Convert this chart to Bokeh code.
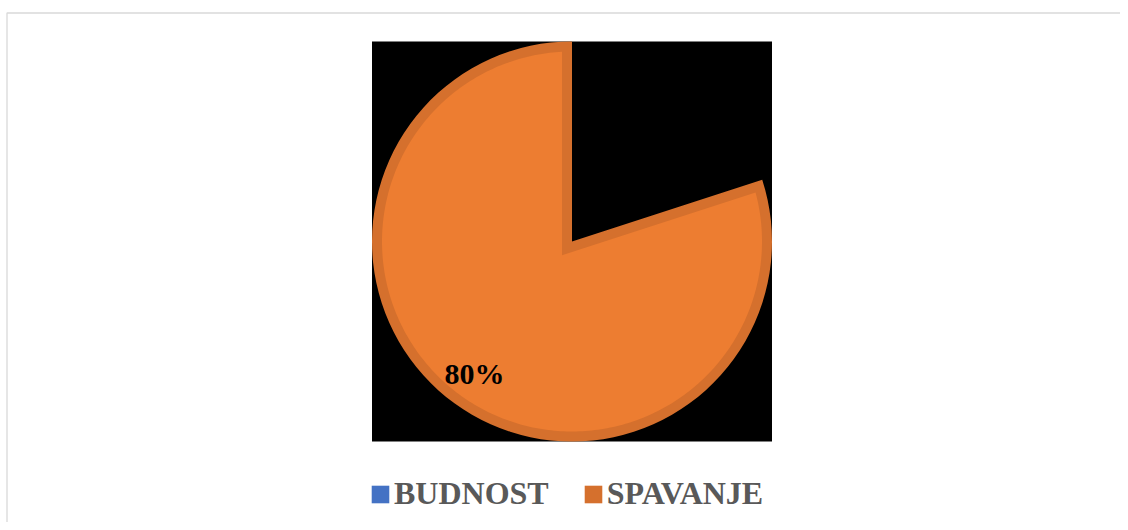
import numpy as np
from bokeh.plotting import figure
from bokeh.models import Range1d, Legend, LegendItem
from bokeh.core.properties import value
from bokeh.embed import file_html
from bokeh.resources import INLINE

# ---- data ----
categories = ["BUDNOST", "SPAVANJE"]
shares = [20, 80]
slice_fill = ["#ED7D31", "#ED7D31"]
slice_border = ["#D5702D", "#D5702D"]
legend_colors = ["#4472C4", "#D5702D"]
slice_visible = [False, True]
label_visible = [False, True]

# ---- layout ----
W, H = 1120, 522
cx, cy = 571.5, 281.0   # pie centre (plot pixels)
R = 200.0               # pie radius
RING = 10.0             # inner border width
LABEL_R = 0.83

p = figure(width=W, height=H, x_range=Range1d(0, W), y_range=Range1d(0, H),
           output_backend="svg", toolbar_location=None, min_border=0,
           x_axis_location=None, y_axis_location=None)
p.grid.visible = False
p.outline_line_color = None
p.background_fill_color = "white"
p.border_fill_color = "white"

# chart outer border (only top/left visible, like the reference)
p.quad(left=[6.5], right=[W + 50], top=[509.5], bottom=[-50],
       fill_color=None, line_color="#D9D9D9", line_width=1.3)

# black plot area behind the pie
p.quad(left=[cx - R], right=[cx + R], bottom=[cy - R], top=[cy + R],
       fill_color="black", line_color=None)

vals = np.array(shares, dtype=float)
frac = vals / vals.sum()
cum = np.cumsum(frac)
cw_start = cum - frac
cw_end = cum
a_start = np.pi / 2 - 2 * np.pi * cw_end     # anticlockwise start
a_end = np.pi / 2 - 2 * np.pi * cw_start     # anticlockwise end

for i, cat in enumerate(categories):
    if not slice_visible[i]:
        continue
    a0, a1 = a_start[i], a_end[i]
    # border (drawn inside the slice)
    p.wedge(x=[cx], y=[cy], radius=R, start_angle=[a0], end_angle=[a1],
            direction="anticlock", fill_color=slice_border[i], line_color=None)
    # inner fill: slice shrunk by RING px on all sides
    half = (a1 - a0) / 2
    mid = (a0 + a1) / 2
    r_in = R - RING
    d = RING / np.sin(half)
    px, py = cx + d * np.cos(mid), cy + d * np.sin(mid)
    dlt = np.arcsin(RING / r_in)
    t = np.linspace(a0 + dlt, a1 - dlt, 300)
    xs = np.concatenate([[px], cx + r_in * np.cos(t), [px]])
    ys = np.concatenate([[py], cy + r_in * np.sin(t), [py]])
    p.patch(xs, ys, fill_color=slice_fill[i], line_color=None)

# data labels
for i, cat in enumerate(categories):
    if not label_visible[i]:
        continue
    mid = (a_start[i] + a_end[i]) / 2
    lx = cx + LABEL_R * R * np.cos(mid)
    ly = cy + LABEL_R * R * np.sin(mid)
    p.text(x=[lx], y=[ly], text=[f"{round(frac[i] * 100)}%"],
           text_font=value("Liberation Serif"), text_font_style="bold",
           text_font_size="30px", text_color="black",
           text_align="center", text_baseline="middle", y_offset=-2)

# legend (swatch-only renderers, nothing drawn in the plot)
leg_renderers = [p.quad(left=[np.nan], right=[np.nan], top=[np.nan], bottom=[np.nan],
                        fill_color=c, line_color=None) for c in legend_colors]
legend = Legend(items=[LegendItem(label=c, renderers=[r])
                       for c, r in zip(categories, leg_renderers)],
                location=(369, 10), orientation="horizontal",
                glyph_width=22, glyph_height=22, label_standoff=3, spacing=33,
                padding=0, margin=0, border_line_color=None,
                background_fill_alpha=0,
                label_text_font="Liberation Serif", label_text_font_style="bold",
                label_text_font_size="32px", label_text_color="#595959")
p.add_layout(legend)

open("out.html", "w").write(file_html(p, INLINE))
